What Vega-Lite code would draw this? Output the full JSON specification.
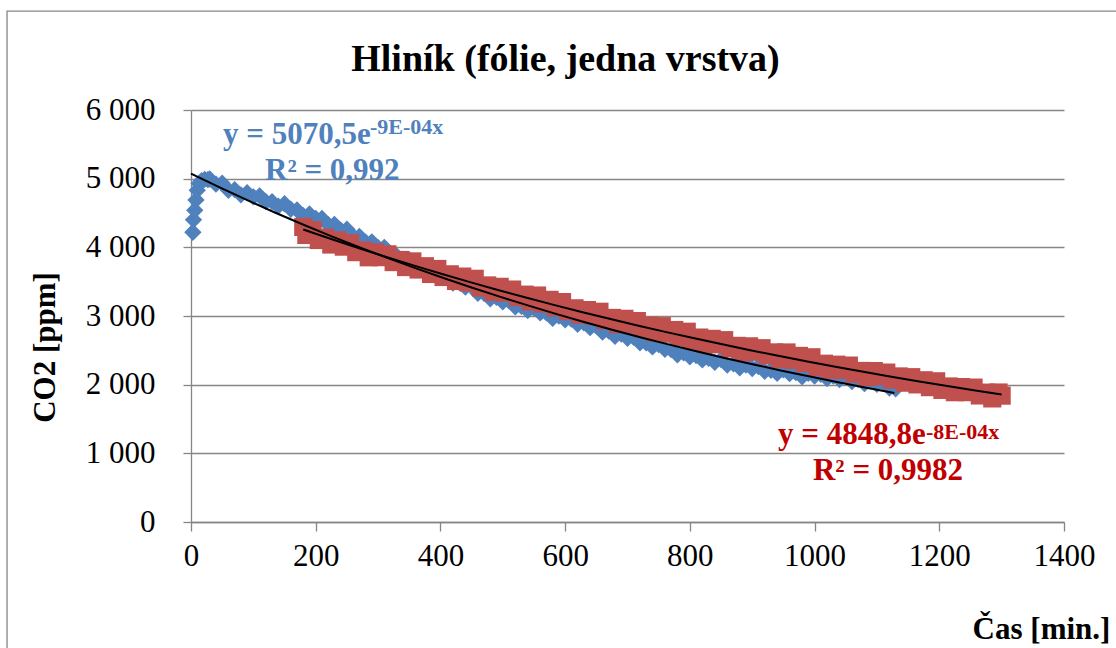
{
  "$schema": "https://vega.github.io/schema/vega-lite/v6.json",
  "width": 873,
  "height": 412,
  "autosize": {"type": "none"},
  "padding": {"left": 191, "top": 110, "right": 52, "bottom": 126},
  "background": "white",
  "config": {"font": "Liberation Serif", "view": {"stroke": null}},
  "title": {"text": "Hliník (fólie, jedna vrstva)", "font": "Liberation Serif", "fontSize": 38, "fontWeight": "bold", "color": "black", "anchor": "middle", "frame": "group", "dx": -62, "offset": -99, "baseline": "alphabetic"},
  "datasets": {
    "blue": [
      {"t":3,"v":4220},{"t":4,"v":4400},{"t":6,"v":4540},{"t":8,"v":4690},{"t":10,"v":4830},{"t":13,"v":4930},{"t":17,"v":4970},{"t":22,"v":4990},{"t":27,"v":4985},
      {"t":30,"v":4995},{"t":40,"v":4920},{"t":50,"v":4935},{"t":60,"v":4830},{"t":70,"v":4840},{"t":80,"v":4765},{"t":90,"v":4795},{"t":100,"v":4735},{"t":110,"v":4750},{"t":120,"v":4665},
      {"t":130,"v":4665},{"t":140,"v":4600},{"t":150,"v":4635},{"t":160,"v":4555},{"t":170,"v":4545},{"t":180,"v":4460},{"t":190,"v":4485},{"t":200,"v":4420},{"t":210,"v":4420},{"t":220,"v":4330},
      {"t":230,"v":4335},{"t":240,"v":4250},{"t":250,"v":4265},{"t":260,"v":4160},{"t":270,"v":4160},{"t":280,"v":4075},{"t":290,"v":4080},{"t":300,"v":3995},{"t":310,"v":4000},{"t":320,"v":3905},
      {"t":330,"v":3875},{"t":340,"v":3800},{"t":350,"v":3820},{"t":360,"v":3735},{"t":370,"v":3720},{"t":380,"v":3630},{"t":390,"v":3645},{"t":400,"v":3575},{"t":410,"v":3565},{"t":420,"v":3480},
      {"t":430,"v":3490},{"t":440,"v":3420},{"t":450,"v":3435},{"t":460,"v":3330},{"t":470,"v":3330},{"t":480,"v":3250},{"t":490,"v":3270},{"t":500,"v":3205},{"t":510,"v":3220},{"t":520,"v":3135},
      {"t":530,"v":3140},{"t":540,"v":3080},{"t":550,"v":3115},{"t":560,"v":3045},{"t":570,"v":3045},{"t":580,"v":2965},{"t":590,"v":3000},{"t":600,"v":2945},{"t":610,"v":2955},{"t":620,"v":2880},
      {"t":630,"v":2900},{"t":640,"v":2830},{"t":650,"v":2855},{"t":660,"v":2765},{"t":670,"v":2780},{"t":680,"v":2705},{"t":690,"v":2735},{"t":700,"v":2675},{"t":710,"v":2690},{"t":720,"v":2610},
      {"t":730,"v":2610},{"t":740,"v":2550},{"t":750,"v":2585},{"t":760,"v":2515},{"t":770,"v":2510},{"t":780,"v":2435},{"t":790,"v":2465},{"t":800,"v":2405},{"t":810,"v":2425},{"t":820,"v":2360},
      {"t":830,"v":2385},{"t":840,"v":2325},{"t":850,"v":2365},{"t":860,"v":2285},{"t":870,"v":2305},{"t":880,"v":2245},{"t":890,"v":2285},{"t":900,"v":2235},{"t":910,"v":2265},{"t":920,"v":2195},
      {"t":930,"v":2210},{"t":940,"v":2165},{"t":950,"v":2215},{"t":960,"v":2160},{"t":970,"v":2175},{"t":980,"v":2115},{"t":990,"v":2165},{"t":1000,"v":2125},{"t":1010,"v":2150},{"t":1020,"v":2090},
      {"t":1030,"v":2125},{"t":1040,"v":2075},{"t":1050,"v":2120},{"t":1060,"v":2045},{"t":1070,"v":2075},{"t":1080,"v":2015},{"t":1090,"v":2060},{"t":1100,"v":2005},{"t":1110,"v":2030},{"t":1120,"v":1950},
      {"t":1130,"v":1940}
    ],
    "red": [
      {"t":180,"v":4297},{"t":185,"v":4180},{"t":195,"v":4249},{"t":205,"v":4107},{"t":215,"v":4141},{"t":225,"v":4041},{"t":235,"v":4100},{"t":245,"v":4010},{"t":255,"v":4059},{"t":265,"v":3930},
      {"t":275,"v":3955},{"t":285,"v":3855},{"t":295,"v":3926},{"t":305,"v":3857},{"t":315,"v":3898},{"t":325,"v":3785},{"t":335,"v":3816},{"t":345,"v":3713},{"t":355,"v":3795},{"t":365,"v":3677},
      {"t":375,"v":3725},{"t":385,"v":3612},{"t":395,"v":3685},{"t":405,"v":3568},{"t":415,"v":3607},{"t":425,"v":3510},{"t":435,"v":3574},{"t":445,"v":3488},{"t":455,"v":3542},{"t":465,"v":3416},
      {"t":475,"v":3445},{"t":485,"v":3350},{"t":495,"v":3425},{"t":505,"v":3340},{"t":515,"v":3385},{"t":525,"v":3275},{"t":535,"v":3311},{"t":545,"v":3212},{"t":555,"v":3298},{"t":565,"v":3184},
      {"t":575,"v":3235},{"t":585,"v":3126},{"t":595,"v":3203},{"t":605,"v":3070},{"t":615,"v":3112},{"t":625,"v":3019},{"t":635,"v":3086},{"t":645,"v":3004},{"t":655,"v":3062},{"t":665,"v":2939},
      {"t":675,"v":2972},{"t":685,"v":2881},{"t":695,"v":2959},{"t":705,"v":2877},{"t":715,"v":2926},{"t":725,"v":2820},{"t":735,"v":2859},{"t":745,"v":2763},{"t":755,"v":2852},{"t":765,"v":2742},
      {"t":775,"v":2796},{"t":785,"v":2691},{"t":795,"v":2771},{"t":805,"v":2641},{"t":815,"v":2686},{"t":825,"v":2596},{"t":835,"v":2667},{"t":845,"v":2588},{"t":855,"v":2648},{"t":865,"v":2529},
      {"t":875,"v":2565},{"t":885,"v":2477},{"t":895,"v":2558},{"t":905,"v":2479},{"t":915,"v":2531},{"t":925,"v":2428},{"t":935,"v":2470},{"t":945,"v":2377},{"t":955,"v":2469},{"t":965,"v":2361},
      {"t":975,"v":2419},{"t":985,"v":2316},{"t":995,"v":2399},{"t":1005,"v":2257},{"t":1015,"v":2305},{"t":1025,"v":2218},{"t":1035,"v":2291},{"t":1045,"v":2214},{"t":1055,"v":2278},{"t":1065,"v":2161},
      {"t":1075,"v":2200},{"t":1085,"v":2114},{"t":1095,"v":2198},{"t":1105,"v":2122},{"t":1115,"v":2176},{"t":1125,"v":2075},{"t":1135,"v":2120},{"t":1145,"v":2029},{"t":1155,"v":2109},{"t":1165,"v":2004},
      {"t":1175,"v":2064},{"t":1185,"v":1964},{"t":1195,"v":2049},{"t":1205,"v":1924},{"t":1215,"v":1974},{"t":1225,"v":1890},{"t":1235,"v":1965},{"t":1245,"v":1891},{"t":1255,"v":1957},{"t":1265,"v":1843},
      {"t":1275,"v":1884},{"t":1285,"v":1800},{"t":1295,"v":1886},{"t":1300,"v":1840}
    ]
  },
  "layer": [
    {
      "data": {"values": [{}]},
      "mark": {"type": "rect", "fill": "transparent", "stroke": "#868686", "strokeWidth": 1.3},
      "encoding": {
        "x": {"datum": -295, "type": "quantitative", "scale": {"domain": [0, 1400], "nice": false, "zero": false}},
        "x2": {"datum": 1500},
        "y": {"datum": 7440, "type": "quantitative", "scale": {"domain": [0, 6000], "nice": false, "zero": false}},
        "y2": {"datum": -2000}
      }
    },
    {
      "data": {"name": "blue"},
      "mark": {"type": "point", "shape": "diamond", "filled": true, "size": 300, "color": "#4F81BD", "opacity": 1},
      "encoding": {
        "x": {"field": "t", "type": "quantitative", "scale": {"domain": [0, 1400], "nice": false, "zero": false},
          "axis": {"values": [0,200,400,600,800,1000,1200,1400], "format": "d", "grid": false, "domainColor": "#868686", "domainWidth": 1.3, "tickColor": "#868686", "tickWidth": 1.3, "tickSize": 9,
            "labelFont": "Liberation Serif", "labelFontSize": 31, "labelColor": "black", "labelPadding": 10, "labelFlush": false, "labelOverlap": false,
            "title": "Čas [min.]", "titleFont": "Liberation Serif", "titleFontSize": 31, "titleFontWeight": "bold", "titleColor": "black",
            "titleX": 850, "titleY": 116, "titleAlign": "center", "titleBaseline": "alphabetic", "titleAnchor": null}},
        "y": {"field": "v", "type": "quantitative", "scale": {"domain": [0, 6000], "nice": false, "zero": false},
          "axis": {"values": [0,1000,2000,3000,4000,5000,6000], "grid": true, "gridColor": "#868686", "gridWidth": 1.3, "domainColor": "#868686", "domainWidth": 1.3, "tickColor": "#868686", "tickWidth": 1.3, "tickSize": 8,
            "labelFont": "Liberation Serif", "labelFontSize": 31, "labelColor": "black", "labelPadding": 28, "labelFlush": false, "labelOverlap": false,
            "labelExpr": "replace(format(datum.value, ','), ',', ' ')",
            "title": "CO2 [ppm]", "titleFont": "Liberation Serif", "titleFontSize": 31, "titleFontWeight": "bold", "titleColor": "black",
            "titleX": -146, "titleY": 237, "titleAngle": -90, "titleAlign": "center", "titleBaseline": "middle", "titleAnchor": null}}
      }
    },
    {
      "data": {"name": "red"},
      "mark": {"type": "point", "shape": "square", "filled": true, "size": 330, "color": "#C0504D", "opacity": 1},
      "encoding": {
        "x": {"field": "t", "type": "quantitative"},
        "y": {"field": "v", "type": "quantitative"}
      }
    },
    {
      "data": {"name": "blue"},
      "transform": [{"regression": "v", "on": "t", "method": "exp", "extent": [0, 1128]}],
      "mark": {"type": "line", "color": "black", "strokeWidth": 2},
      "encoding": {
        "x": {"field": "t", "type": "quantitative"},
        "y": {"field": "v", "type": "quantitative"}
      }
    },
    {
      "data": {"name": "red"},
      "transform": [{"regression": "v", "on": "t", "method": "exp"}],
      "mark": {"type": "line", "color": "black", "strokeWidth": 2},
      "encoding": {
        "x": {"field": "t", "type": "quantitative"},
        "y": {"field": "v", "type": "quantitative"}
      }
    },
    {
      "data": {"values": [{}]},
      "mark": {"type": "text", "text": "y = 5070,5e", "font": "Liberation Serif", "fontSize": 31, "fontWeight": "bold", "color": "#4F81BD", "align": "left", "baseline": "alphabetic"},
      "encoding": {"x": {"datum": 51.3, "type": "quantitative"}, "y": {"datum": 5503, "type": "quantitative"}}
    },
    {
      "data": {"values": [{}]},
      "mark": {"type": "text", "text": "-9E-04x", "font": "Liberation Serif", "fontSize": 22, "fontWeight": "bold", "color": "#4F81BD", "align": "left", "baseline": "alphabetic"},
      "encoding": {"x": {"datum": 287, "type": "quantitative"}, "y": {"datum": 5649, "type": "quantitative"}}
    },
    {
      "data": {"values": [{}]},
      "mark": {"type": "text", "text": "R² = 0,992", "font": "Liberation Serif", "fontSize": 31, "fontWeight": "bold", "color": "#4F81BD", "align": "left", "baseline": "alphabetic"},
      "encoding": {"x": {"datum": 118.7, "type": "quantitative"}, "y": {"datum": 4978, "type": "quantitative"}}
    },
    {
      "data": {"values": [{}]},
      "mark": {"type": "text", "text": "y = 4848,8e", "font": "Liberation Serif", "fontSize": 31, "fontWeight": "bold", "color": "#C00000", "align": "left", "baseline": "alphabetic"},
      "encoding": {"x": {"datum": 941.3, "type": "quantitative"}, "y": {"datum": 1130, "type": "quantitative"}}
    },
    {
      "data": {"values": [{}]},
      "mark": {"type": "text", "text": "-8E-04x", "font": "Liberation Serif", "fontSize": 22, "fontWeight": "bold", "color": "#C00000", "align": "left", "baseline": "alphabetic"},
      "encoding": {"x": {"datum": 1178.6, "type": "quantitative"}, "y": {"datum": 1203, "type": "quantitative"}}
    },
    {
      "data": {"values": [{}]},
      "mark": {"type": "text", "text": "R² = 0,9982", "font": "Liberation Serif", "fontSize": 31, "fontWeight": "bold", "color": "#C00000", "align": "left", "baseline": "alphabetic"},
      "encoding": {"x": {"datum": 997.4, "type": "quantitative"}, "y": {"datum": 605, "type": "quantitative"}}
    }
  ]
}
